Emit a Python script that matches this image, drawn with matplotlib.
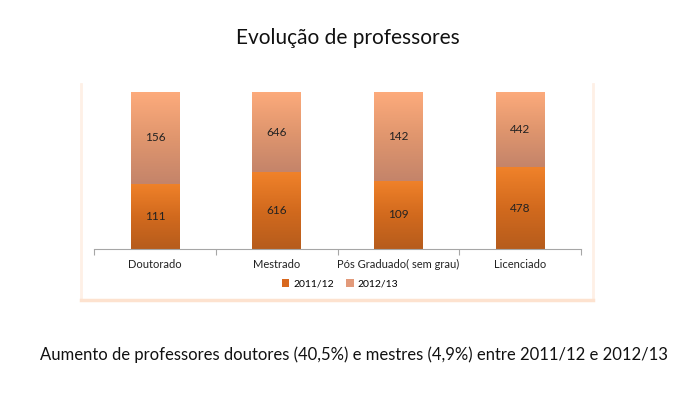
import matplotlib.pyplot as plt
import numpy as np
from matplotlib.colors import LinearSegmentedColormap
from matplotlib.patches import Patch
from matplotlib.lines import Line2D

plt.rcParams['font.family'] = ['Lato', 'DejaVu Sans']

categories = ['Doutorado', 'Mestrado', 'Pós Graduado( sem grau)', 'Licenciado']
v2011 = [111, 616, 109, 478]
v2012 = [156, 646, 142, 442]
series = ['2011/12', '2012/13']

fig = plt.figure(figsize=(6.87, 4.05), dpi=100)

# chart frame (soft peach shadow)
W, H = 687.0, 405.0
frame_col = '#FEF0E6'
fig.add_artist(Line2D([81 / W, 81 / W], [1 - 84 / H, 1 - 300 / H], color=frame_col, lw=2))
fig.add_artist(Line2D([593 / W, 593 / W], [1 - 84 / H, 1 - 300 / H], color=frame_col, lw=2))
fig.add_artist(Line2D([81 / W, 593 / W], [1 - 300 / H, 1 - 300 / H], color='#FDE2CF', lw=2.5))

ax = fig.add_axes([94 / W, 1 - 249 / H, 487 / W, 157 / H])

tot = np.array(v2011) + np.array(v2012)
p1 = np.array(v2011) / tot
p2 = np.array(v2012) / tot
x = np.arange(len(categories))

cm1 = LinearSegmentedColormap.from_list('c1', ['#B65C1C', '#D26A1E', '#F0822A'])
cm2 = LinearSegmentedColormap.from_list('c2', ['#C4846A', '#E0966E', '#FDAB7C'])
grad = np.linspace(0, 1, 256).reshape(-1, 1)

b1 = ax.bar(x, p1, width=0.40, color='none', edgecolor='none')
b2 = ax.bar(x, p2, bottom=p1, width=0.40, color='none', edgecolor='none')

for bars, cmap in ((b1, cm1), (b2, cm2)):
    for r in bars:
        x0, y0 = r.get_x(), r.get_y()
        w, h = r.get_width(), r.get_height()
        im = ax.imshow(grad, cmap=cmap, origin='lower', aspect='auto',
                       extent=[x0, x0 + w, y0, y0 + h], zorder=2)
        im.set_clip_path(r)

for i in range(len(categories)):
    ax.text(x[i], p1[i] / 2, str(v2011[i]), ha='center', va='center', fontsize=8.5, color='#222222', zorder=3)
    ax.text(x[i], p1[i] + p2[i] / 2, str(v2012[i]), ha='center', va='center', fontsize=8.5, color='#222222', zorder=3)

ax.set_xlim(-0.5, len(categories) - 0.5)
ax.set_ylim(0, 1)
for s in ['top', 'right', 'left']:
    ax.spines[s].set_visible(False)
ax.spines['bottom'].set_color('#A6A6A6')
ax.spines['bottom'].set_linewidth(0.8)
ax.set_yticks([])
ax.set_xticks(np.arange(-0.5, len(categories)), minor=False)
ax.set_xticklabels([])
ax.tick_params(axis='x', length=4, color='#A6A6A6', width=0.8)
for i, c in enumerate(categories):
    ax.text(x[i], -0.1, c, ha='center', va='center', fontsize=8, color='#222222')

handles = [Patch(facecolor='#D8681E', label=series[0]),
           Patch(facecolor='#E29A7A', label=series[1])]
fig.legend(handles=handles, loc='center', bbox_to_anchor=(340 / W, 1 - 284 / H), ncol=2,
           frameon=False, fontsize=7.5, handlelength=0.7, handleheight=0.7,
           handletextpad=0.4, columnspacing=1.2)

fig.text(348 / W, 1 - 38 / H, 'Evolução de professores', ha='center', va='center', fontsize=15, color='#111111')
fig.text(354 / W, 1 - 355 / H,
         'Aumento de professores doutores (40,5%) e mestres (4,9%) entre 2011/12 e 2012/13',
         ha='center', va='center', fontsize=12, color='#111111')

fig.savefig('out.png', dpi=100)
